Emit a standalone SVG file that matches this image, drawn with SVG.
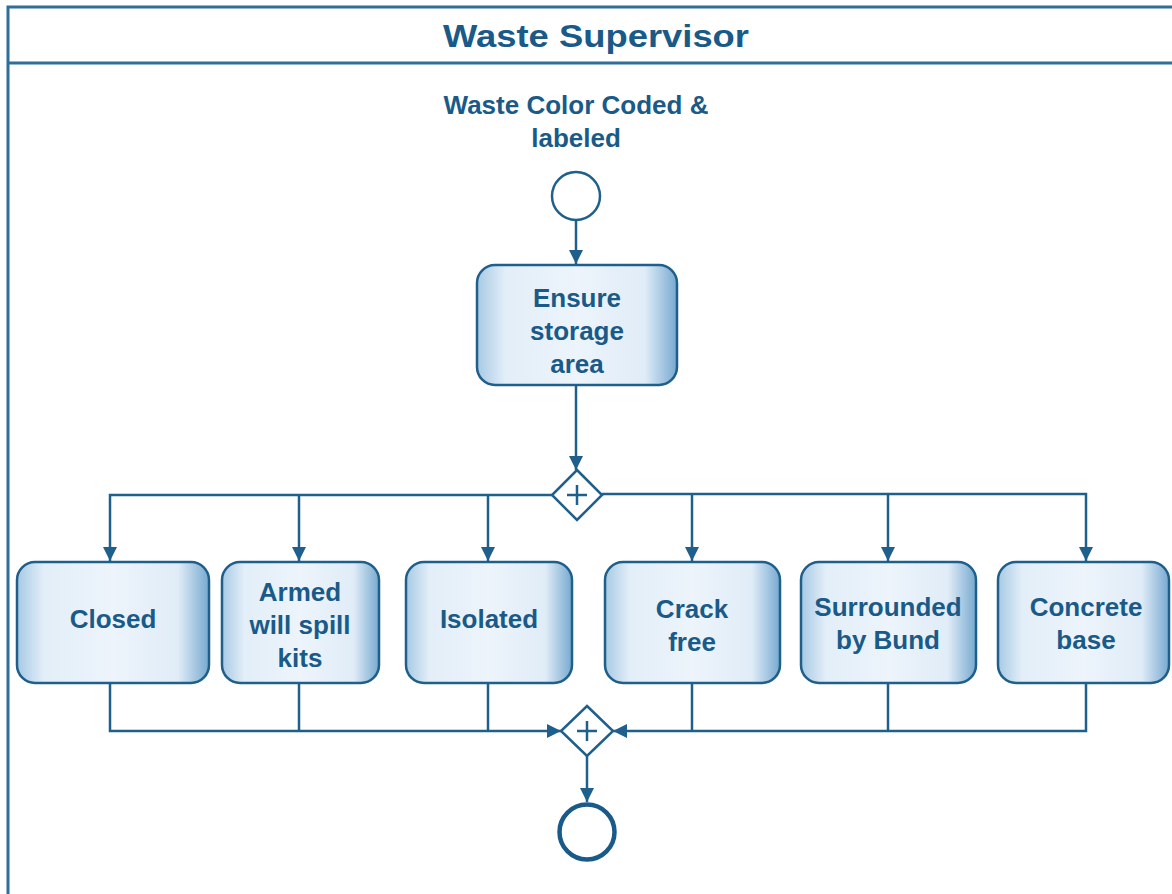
<svg xmlns="http://www.w3.org/2000/svg" width="1172" height="894" viewBox="0 0 1172 894">
  <style>
    .pool { fill: none; stroke: #2f6e99; stroke-width: 3; }
    .title { font-family: "Liberation Sans", Arial, sans-serif; font-weight: bold; font-size: 32px; fill: #195a88; text-anchor: middle; }
    .lbl { font-family: "Liberation Sans", Arial, sans-serif; font-weight: bold; font-size: 26px; fill: #195a88; text-anchor: middle; }
    .task { fill: url(#taskFill); stroke: #1f5f8c; stroke-width: 2.5; }
    .gw { fill: #ffffff; stroke: #1f5f8c; stroke-width: 2.5; }
    .gwplus { stroke: #1f5f8c; stroke-width: 2.5; fill: none; }
    .flow { fill: none; stroke: #1f5f8c; stroke-width: 2.5; }
    .start { fill: #ffffff; stroke: #1f5f8c; stroke-width: 2.5; }
    .end { fill: #ffffff; stroke: #1a5a88; stroke-width: 4.5; }
  </style>
  <defs>
    <linearGradient id="taskFill" x1="0" y1="0" x2="1" y2="0">
      <stop offset="0" stop-color="#a7c9e4"/>
      <stop offset="0.14" stop-color="#e2eef8"/>
      <stop offset="0.5" stop-color="#edf4fb"/>
      <stop offset="0.84" stop-color="#e0ecf7"/>
      <stop offset="1" stop-color="#76a9d0"/>
    </linearGradient>
    <marker id="arrow" markerUnits="userSpaceOnUse" markerWidth="14" markerHeight="14" viewBox="0 0 12 12" refX="12" refY="6" orient="auto">
      <path d="M0,0 L12,6 L0,12 z" fill="#1f5f8c"/>
    </marker>
  </defs>

  <!-- lane frame and header -->
  <g id="pool">
    <path class="pool" d="M1180,7 H8 V900"/>
    <line class="pool" x1="8" y1="63" x2="1180" y2="63"/>
    <text class="title" x="596" y="47" textLength="306" lengthAdjust="spacingAndGlyphs">Waste Supervisor</text>
  </g>

  <!-- sequence flows -->
  <g id="connectors">
    <path class="flow" d="M576,221 V264" marker-end="url(#arrow)"/>
    <path class="flow" d="M576,385 V470" marker-end="url(#arrow)"/>
    <path class="flow" d="M552,495 H110 V561" marker-end="url(#arrow)"/>
    <path class="flow" d="M299,495 V561" marker-end="url(#arrow)"/>
    <path class="flow" d="M488,495 V561" marker-end="url(#arrow)"/>
    <path class="flow" d="M602,494 H1086 V561" marker-end="url(#arrow)"/>
    <path class="flow" d="M692,494 V561" marker-end="url(#arrow)"/>
    <path class="flow" d="M888,494 V561" marker-end="url(#arrow)"/>
    <path class="flow" d="M110,683 V731 H561" marker-end="url(#arrow)"/>
    <path class="flow" d="M299,683 V731"/>
    <path class="flow" d="M488,683 V731"/>
    <path class="flow" d="M1086,683 V731 H613" marker-end="url(#arrow)"/>
    <path class="flow" d="M888,683 V731"/>
    <path class="flow" d="M692,683 V731"/>
    <path class="flow" d="M587,756 V802" marker-end="url(#arrow)"/>
  </g>

  <g id="start-event">
    <text class="lbl" x="576" y="114">Waste Color Coded &amp;</text>
    <text class="lbl" x="576" y="147">labeled</text>
    <circle class="start" cx="576" cy="196" r="24"/>
  </g>

  <g id="task-ensure">
    <rect class="task" x="477" y="265" width="200" height="120" rx="18"/>
    <text class="lbl" x="577" y="307">Ensure</text>
    <text class="lbl" x="577" y="340">storage</text>
    <text class="lbl" x="577" y="373">area</text>
  </g>

  <g id="gateway-split">
    <path class="gw" d="M577,470 L602,495 L577,520 L552,495 Z"/>
    <path class="gwplus" d="M567,495 H587 M577,485 V505"/>
  </g>

  <g id="task-closed">
    <rect class="task" x="17" y="562" width="192" height="121" rx="18"/>
    <text class="lbl" x="113" y="628">Closed</text>
  </g>

  <g id="task-armed">
    <rect class="task" x="222" y="562" width="157" height="121" rx="18"/>
    <text class="lbl" x="300" y="601">Armed</text>
    <text class="lbl" x="300" y="634">will spill</text>
    <text class="lbl" x="300" y="667">kits</text>
  </g>

  <g id="task-isolated">
    <rect class="task" x="406" y="562" width="166" height="121" rx="18"/>
    <text class="lbl" x="489" y="628">Isolated</text>
  </g>

  <g id="task-crack">
    <rect class="task" x="605" y="562" width="175" height="121" rx="18"/>
    <text class="lbl" x="692" y="618">Crack</text>
    <text class="lbl" x="692" y="651">free</text>
  </g>

  <g id="task-bund">
    <rect class="task" x="801" y="562" width="175" height="121" rx="18"/>
    <text class="lbl" x="888" y="616">Surrounded</text>
    <text class="lbl" x="888" y="649">by Bund</text>
  </g>

  <g id="task-concrete">
    <rect class="task" x="998" y="562" width="171" height="121" rx="18"/>
    <text class="lbl" x="1086" y="616">Concrete</text>
    <text class="lbl" x="1086" y="649">base</text>
  </g>

  <g id="gateway-join">
    <path class="gw" d="M587,706 L613,731 L587,756 L561,731 Z"/>
    <path class="gwplus" d="M577,731 H597 M587,721 V741"/>
  </g>

  <g id="end-event">
    <circle class="end" cx="587" cy="832" r="27.5"/>
  </g>
</svg>
